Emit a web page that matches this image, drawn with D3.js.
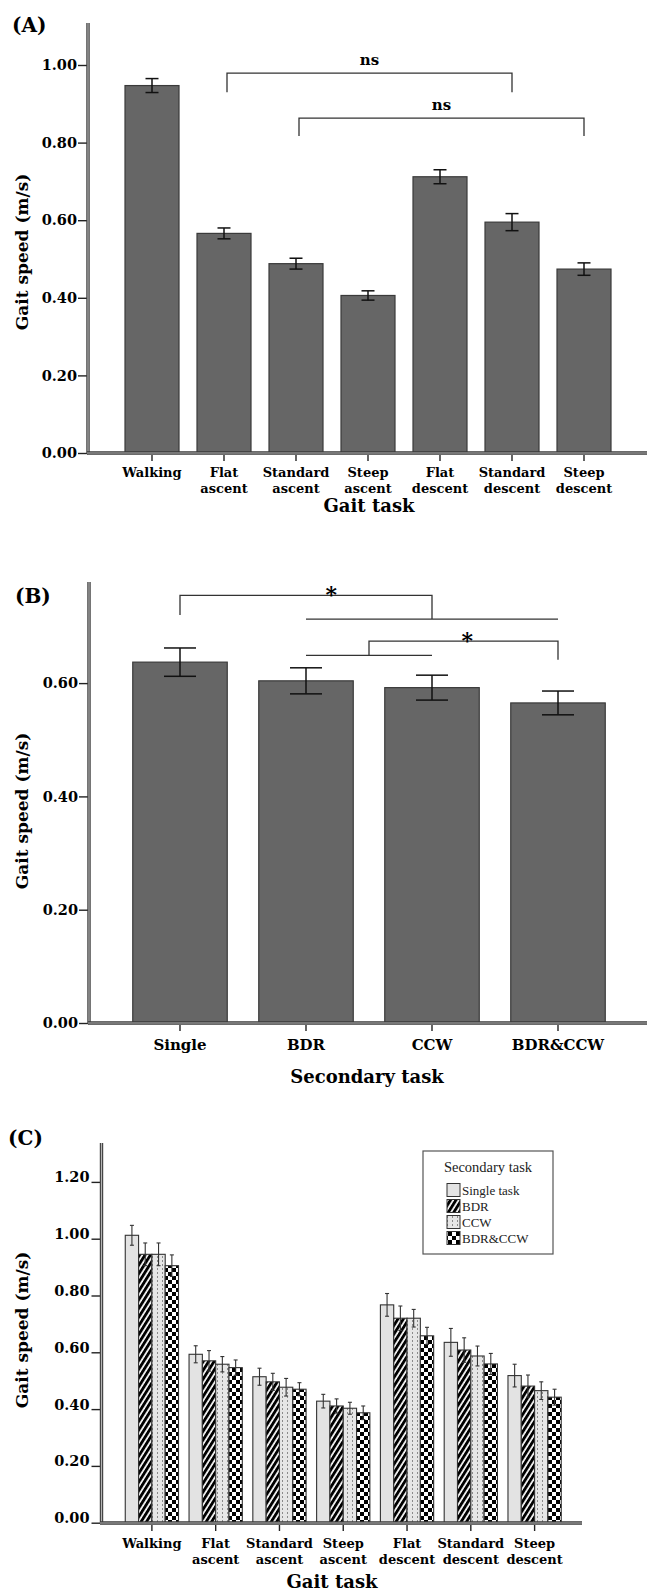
<!DOCTYPE html>
<html>
<head>
<meta charset="utf-8">
<script src="https://cdn.jsdelivr.net/npm/d3@7"></script>
<style>
  body { margin: 0; background: #fff; }
  text { font-family: "DejaVu Serif", serif; font-weight: bold; fill: #000; }
  .legend text { font-family: "Liberation Serif", serif; font-weight: normal; fill: #222; }
</style>
</head>
<body>
<div id="chart"></div>
<script>
// data
const gaitTasks = ["Walking", "Flat ascent", "Standard ascent", "Steep ascent", "Flat descent", "Standard descent", "Steep descent"]
const speedA = [0.947, 0.566, 0.488, 0.406, 0.712, 0.595, 0.474]
const errA = [0.018, 0.014, 0.014, 0.012, 0.018, 0.022, 0.016]
const ticksA = [0, 0.2, 0.4, 0.6, 0.8, 1.0]
const nsPairsA = [["Flat ascent", "Standard descent"], ["Standard ascent", "Steep descent"]]
const nsLevelsA = [0.979, 0.863]
const nsLegsA = [0.930, 0.817]

const secondaryTasks = ["Single", "BDR", "CCW", "BDR&CCW"]
const speedB = [0.637, 0.604, 0.592, 0.565]
const errB = [0.025, 0.023, 0.022, 0.021]
const ticksB = [0, 0.2, 0.4, 0.6]
// comparisons: left group vs right group (a group of two = line between them)
const sigLeftB = [["Single"], ["BDR", "CCW"]]
const sigRightB = [["BDR", "BDR&CCW"], ["BDR&CCW"]]
const sigLevelsB = [0.755, 0.674]
const sigLeftEndB = [0.720, 0.649]
const sigRightEndB = [0.713, 0.641]
const sigLabelAtB = [0.6, 0.52]

const legendLabels = ["Single task", "BDR", "CCW", "BDR&CCW"]
const singleC = [1.012, 0.593, 0.514, 0.428, 0.767, 0.635, 0.518]
const bdrC = [0.945, 0.570, 0.496, 0.411, 0.720, 0.608, 0.481]
const ccwC = [0.945, 0.558, 0.477, 0.403, 0.720, 0.587, 0.465]
const bothC = [0.905, 0.546, 0.470, 0.387, 0.658, 0.559, 0.442]
const errSingleC = [0.035, 0.030, 0.030, 0.024, 0.040, 0.049, 0.040]
const errBdrC = [0.040, 0.036, 0.030, 0.025, 0.043, 0.043, 0.039]
const errCcwC = [0.040, 0.027, 0.031, 0.021, 0.031, 0.035, 0.031]
const errBothC = [0.038, 0.027, 0.023, 0.024, 0.030, 0.037, 0.028]
const ticksC = [0, 0.2, 0.4, 0.6, 0.8, 1.0, 1.2]

const seriesC = [singleC, bdrC, ccwC, bothC]
const errSeriesC = [errSingleC, errBdrC, errCcwC, errBothC]
const fillsC = ["#e3e3e3", "url(#pBDR)", "url(#pCCW)", "url(#pCheck)"]

const width = 647
const height = 1594
const fmt = d3.format(".2f")

const svg = d3.select("#chart").append("svg").attr("width", width).attr("height", height)

// patterns
const defs = svg.append("defs")
const p1 = defs.append("pattern").attr("id", "pBDR").attr("patternUnits", "userSpaceOnUse")
  .attr("width", 4.6).attr("height", 6).attr("patternTransform", "rotate(32)")
p1.append("rect").attr("width", 4.6).attr("height", 6).attr("fill", "#fff")
p1.append("rect").attr("width", 2.9).attr("height", 6).attr("fill", "#000")
const p2 = defs.append("pattern").attr("id", "pCCW").attr("patternUnits", "userSpaceOnUse")
  .attr("width", 5).attr("height", 4)
p2.append("rect").attr("width", 5).attr("height", 4).attr("fill", "#e6e6e6")
p2.append("rect").attr("x", 2).attr("width", 1).attr("height", 2).attr("fill", "#8a8a8a")
const p3 = defs.append("pattern").attr("id", "pCheck").attr("patternUnits", "userSpaceOnUse")
  .attr("width", 8).attr("height", 8)
p3.append("rect").attr("width", 8).attr("height", 8).attr("fill", "#fff")
p3.append("rect").attr("width", 4).attr("height", 4).attr("fill", "#000")
p3.append("rect").attr("x", 4).attr("y", 4).attr("width", 4).attr("height", 4).attr("fill", "#000")

// helpers
function doubleLine(g, x1, y1, x2, y2) {
  g.append("line").attr("x1", x1).attr("y1", y1).attr("x2", x2).attr("y2", y2)
    .attr("stroke", "#3a3a3a").attr("stroke-width", 3.4)
  g.append("line").attr("x1", x1).attr("y1", y1).attr("x2", x2).attr("y2", y2)
    .attr("stroke", "#b5b5b5").attr("stroke-width", 1.2)
}

function yAxis(g, x0, y, ticks, size, pad, dy) {
  const ax = g.append("g").attr("transform", `translate(${x0},0)`)
    .call(d3.axisLeft(y).tickValues(ticks).tickFormat(fmt).tickSize(size).tickPadding(pad))
  ax.attr("font-family", null).attr("font-size", null).attr("color", "#222")
  ax.select(".domain").remove()
  ax.selectAll("line").attr("stroke-width", 1.4)
  ax.selectAll("text").style("font-size", "14.5px").attr("dy", dy)
}

function xLabels(g, x, cats, axisY, y0, size) {
  cats.forEach(c => {
    const cx = x(c) + x.bandwidth() / 2
    g.append("line").attr("x1", cx).attr("x2", cx).attr("y1", axisY + 2).attr("y2", axisY + 8)
      .attr("stroke", "#222").attr("stroke-width", 1.4)
    const t = g.append("text").attr("x", cx).attr("y", y0).attr("text-anchor", "middle").style("font-size", size + "px")
    c.split(" ").forEach((w, i) => {
      t.append("tspan").attr("x", cx).attr("dy", i == 0 ? 0 : size + 3).text(w)
    })
  })
}

function errorBar(g, cx, y, v, e, cap, sw, color) {
  g.append("line").attr("x1", cx).attr("x2", cx).attr("y1", y(v - e)).attr("y2", y(v + e))
    .attr("stroke", color).attr("stroke-width", sw)
  ;[v - e, v + e].forEach(k => {
    g.append("line").attr("x1", cx - cap / 2).attr("x2", cx + cap / 2).attr("y1", y(k)).attr("y2", y(k))
      .attr("stroke", color).attr("stroke-width", sw)
  })
}

// ---------------- (A)
const gA = svg.append("g")
const xA = d3.scaleBand().domain(gaitTasks).range([116, 620]).paddingInner(0.25).paddingOuter(0.125)
const yA = d3.scaleLinear().domain([0, 1]).range([453, 65])

gA.selectAll("rect.bar").data(gaitTasks).join("rect")
  .attr("class", "bar")
  .attr("x", d => xA(d))
  .attr("y", (d, i) => yA(speedA[i]))
  .attr("width", xA.bandwidth())
  .attr("height", (d, i) => yA(0) - yA(speedA[i]))
  .attr("fill", "#666").attr("stroke", "#3a3a3a").attr("stroke-width", 1.2)

gaitTasks.forEach((d, i) => errorBar(gA, xA(d) + xA.bandwidth() / 2, yA, speedA[i], errA[i], 13, 1.5, "#111"))

nsPairsA.forEach((p, i) => {
  const x1 = xA(p[0]) + xA.bandwidth() / 2 + 3
  const x2 = xA(p[1]) + xA.bandwidth() / 2
  const yt = yA(nsLevelsA[i]), yb = yA(nsLegsA[i])
  gA.append("path").attr("d", `M${x1},${yb}V${yt}H${x2}V${yb}`)
    .attr("fill", "none").attr("stroke", "#333").attr("stroke-width", 1.3)
  gA.append("text").attr("x", (x1 + x2) / 2).attr("y", yt - 8).attr("text-anchor", "middle")
    .style("font-size", "15px").text("ns")
})

yAxis(gA, 88, yA, ticksA, 10, 1, "0.32em")
doubleLine(gA, 88, 23, 88, 454)
doubleLine(gA, 87, 453, 647, 453)
xLabels(gA, xA, gaitTasks, 453, 477, 13)
gA.append("text").attr("x", 12).attr("y", 32).style("font-size", "20px").text("(A)")
gA.append("text").attr("transform", "translate(28,252) rotate(-90)").attr("text-anchor", "middle")
  .style("font-size", "17px").text("Gait speed (m/s)")
gA.append("text").attr("x", 369).attr("y", 512).attr("text-anchor", "middle")
  .style("font-size", "18px").text("Gait task")

// ---------------- (B)
const gB = svg.append("g")
const xB = d3.scaleBand().domain(secondaryTasks).range([117, 621]).paddingInner(0.25).paddingOuter(0.125)
const yB = d3.scaleLinear().domain([0, 0.6]).range([1023, 683.1])

gB.selectAll("rect.bar").data(secondaryTasks).join("rect")
  .attr("class", "bar")
  .attr("x", d => xB(d))
  .attr("y", (d, i) => yB(speedB[i]))
  .attr("width", xB.bandwidth())
  .attr("height", (d, i) => yB(0) - yB(speedB[i]))
  .attr("fill", "#666").attr("stroke", "#3a3a3a").attr("stroke-width", 1.2)

secondaryTasks.forEach((d, i) => errorBar(gB, xB(d) + xB.bandwidth() / 2, yB, speedB[i], errB[i], 32, 1.5, "#111"))

const cB = d => xB(d) + xB.bandwidth() / 2
function sideB(grp, endV) {
  // returns x where the leg lands, drawing a group line if needed
  if (grp.length == 1) return cB(grp[0])
  const a = cB(grp[0]), b = cB(grp[grp.length - 1])
  gB.append("line").attr("x1", a).attr("x2", b).attr("y1", yB(endV)).attr("y2", yB(endV))
    .attr("stroke", "#333").attr("stroke-width", 1.3)
  return (a + b) / 2
}
sigLevelsB.forEach((lv, i) => {
  const x1 = sideB(sigLeftB[i], sigLeftEndB[i])
  const x2 = sideB(sigRightB[i], sigRightEndB[i])
  const yt = yB(lv)
  gB.append("path").attr("d", `M${x1},${yB(sigLeftEndB[i])}V${yt}H${x2}V${yB(sigRightEndB[i])}`)
    .attr("fill", "none").attr("stroke", "#333").attr("stroke-width", 1.3)
  gB.append("text").attr("x", x1 + (x2 - x1) * sigLabelAtB[i]).attr("y", yt + 7).attr("text-anchor", "middle")
    .style("font-size", "22px").text("*")
})

yAxis(gB, 89, yB, ticksB, 10, 1, "0.32em")
doubleLine(gB, 89, 582, 89, 1024)
doubleLine(gB, 88, 1023, 647, 1023)
xLabels(gB, xB, secondaryTasks, 1023, 1050, 15)
gB.append("text").attr("x", 15).attr("y", 603).style("font-size", "20px").text("(B)")
gB.append("text").attr("transform", "translate(28,811) rotate(-90)").attr("text-anchor", "middle")
  .style("font-size", "17px").text("Gait speed (m/s)")
gB.append("text").attr("x", 367).attr("y", 1083).attr("text-anchor", "middle")
  .style("font-size", "18px").text("Secondary task")

// ---------------- (C)
const gC = svg.append("g")
const xC = d3.scaleBand().domain(gaitTasks).range([120, 566.5]).paddingInner(0.165).paddingOuter(0.0825)
const xC1 = d3.scaleBand().domain(legendLabels).range([0, xC.bandwidth()])
const yC = d3.scaleLinear().domain([0, 1.2]).range([1522.7, 1181.9])

seriesC.forEach((vals, j) => {
  gC.selectAll("rect.s" + j).data(gaitTasks).join("rect")
    .attr("class", "s" + j)
    .attr("x", d => xC(d) + xC1(legendLabels[j]))
    .attr("y", (d, i) => yC(vals[i]))
    .attr("width", xC1.bandwidth())
    .attr("height", (d, i) => yC(0) - yC(vals[i]))
    .attr("fill", fillsC[j]).attr("stroke", "#333").attr("stroke-width", 1.1)
})
seriesC.forEach((vals, j) => {
  gaitTasks.forEach((d, i) => {
    errorBar(gC, xC(d) + xC1(legendLabels[j]) + xC1.bandwidth() / 2, yC, vals[i], errSeriesC[j][i], 4, 1.1, "#333")
  })
})

yAxis(gC, 101.5, yC, ticksC, 10, 2, "0em")
doubleLine(gC, 101.5, 1143, 101.5, 1524)
doubleLine(gC, 100, 1523, 582, 1523)
xLabels(gC, xC, gaitTasks, 1523, 1548, 13)
gC.append("text").attr("x", 8).attr("y", 1145).style("font-size", "20px").text("(C)")
gC.append("text").attr("transform", "translate(28,1330) rotate(-90)").attr("text-anchor", "middle")
  .style("font-size", "17px").text("Gait speed (m/s)")
gC.append("text").attr("x", 332).attr("y", 1588).attr("text-anchor", "middle")
  .style("font-size", "18px").text("Gait task")

// legend
const lg = gC.append("g").attr("class", "legend")
lg.append("rect").attr("x", 423).attr("y", 1151).attr("width", 130).attr("height", 103)
  .attr("fill", "#fff").attr("stroke", "#555").attr("stroke-width", 1.2)
lg.append("text").attr("x", 488).attr("y", 1172).attr("text-anchor", "middle").style("font-size", "14.5px").text("Secondary task")
legendLabels.forEach((l, j) => {
  const cy = 1190 + j * 16
  lg.append("rect").attr("x", 447).attr("y", cy - 6.5).attr("width", 13).attr("height", 13)
    .attr("fill", fillsC[j]).attr("stroke", "#333").attr("stroke-width", 1)
  lg.append("text").attr("x", 462).attr("y", cy + 4.5).style("font-size", "13px").text(l)
})
</script>
</body>
</html>
